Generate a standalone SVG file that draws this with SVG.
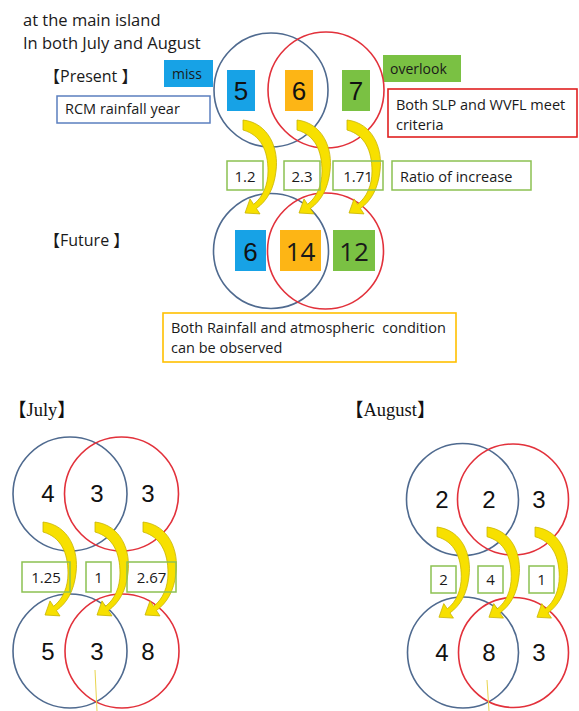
<svg xmlns="http://www.w3.org/2000/svg" xmlns:xlink="http://www.w3.org/1999/xlink" width="579" height="711" viewBox="0 0 579 711">
<defs>
<style>
.t{font-family:"Open Sans","Noto Sans CJK JP",sans-serif;fill:#1a1a1a}
.s14{font-size:14.5px}
.s16{font-size:16.5px}
.num{font-family:"Liberation Sans",Arial,sans-serif;fill:#111;text-anchor:middle}
.rt{font-family:"Open Sans",sans-serif;font-size:15px;fill:#1a1a1a;text-anchor:middle}
.cb{fill:none;stroke:#4F6A8F;stroke-width:1.6}
.cr{fill:none;stroke:#E2313B;stroke-width:1.6}
.gb{fill:none;stroke:#8CC152;stroke-width:1.5}
.mo{font-family:"Liberation Serif","Noto Sans CJK JP",serif;font-size:18.5px;fill:#111}
.arr{fill:#F7E000;stroke:#C8B400;stroke-width:0.8}
.thin{stroke:#E8D44D;stroke-width:1}
</style>
<path id="arr" d="M0,-1 C26,2 36,28 33,50 C31,68 24,80 13.4,87.5 L17,92.9 L2,92 L7,77.9 L10.6,83.3 C20,76 25,64 25,50 C25,30 18,14 0,9 Z"/>
</defs>
<rect width="579" height="711" fill="#fff"/>

<g id="title">
<text class="t s16" x="23" y="26">at the main island</text>
<text class="t s16" x="23" y="49">In both July and August</text>
</g>
<g id="label-present"><text class="t" font-size="16" x="44" y="82">【Present 】</text></g>
<g id="label-future"><text class="t" font-size="16" x="44" y="246">【Future 】</text></g>

<g id="legend-miss"><rect x="164" y="60" width="49" height="27" fill="#17A2E6"/><text class="t" font-size="14" x="172" y="79">miss</text></g>
<g id="legend-rcm"><rect x="57" y="96" width="153" height="27" fill="#fff" stroke="#5B7FBF" stroke-width="1.5"/><text class="t s14" x="65" y="114">RCM rainfall year</text></g>
<g id="legend-overlook"><rect x="383" y="55" width="78" height="27" fill="#7AC143"/><text class="t" font-size="14" x="390" y="74">overlook</text></g>
<g id="legend-slp"><rect x="388" y="89" width="189" height="48" fill="#fff" stroke="#E02020" stroke-width="1.6"/><text class="t s14" x="396" y="110">Both SLP and WVFL meet</text><text class="t s14" x="396" y="130">criteria</text></g>

<g id="present-venn">
<circle class="cb" cx="271" cy="90" r="57"/>
<circle class="cr" cx="326" cy="90" r="58"/>
<rect x="227" y="70" width="28" height="41" fill="#17A2E6"/><text class="num" font-size="26" x="241" y="100">5</text>
<rect x="285" y="70" width="28" height="41" fill="#FDB515"/><text class="num" font-size="26" x="299" y="100">6</text>
<rect x="342" y="70" width="28" height="41" fill="#7AC143"/><text class="num" font-size="26" x="356" y="100">7</text>
</g>

<g id="future-venn">
<circle class="cb" cx="271" cy="251" r="57.5"/>
<circle class="cr" cx="325.5" cy="251" r="58"/>
<rect x="235" y="230" width="31" height="41" fill="#17A2E6"/><text class="num" font-size="26" x="250.5" y="261">6</text>
<rect x="280" y="230" width="41" height="41" fill="#FDB515"/><text class="t" font-size="26" text-anchor="middle" x="300.5" y="261">14</text>
<rect x="333" y="230" width="42" height="41" fill="#7AC143"/><text class="t" font-size="26" text-anchor="middle" x="354" y="261">12</text>
</g>

<g id="legend-both"><rect x="163" y="313" width="293" height="49" fill="#fff" stroke="#FFC000" stroke-width="1.6"/><text class="t s14" x="171" y="333" xml:space="preserve">Both Rainfall and atmospheric  condition</text><text class="t s14" x="171" y="353">can be observed</text></g>

<g id="label-july"><text class="mo" x="8" y="416">【July】</text></g>
<g id="label-august"><text class="mo" x="345" y="416">【August】</text></g>

<g id="july-present">
<circle class="cb" cx="70" cy="494" r="57"/>
<circle class="cr" cx="121.5" cy="494" r="57"/>
<text class="num" font-size="24" x="48" y="502">4</text>
<text class="num" font-size="24" x="97" y="502">3</text>
<text class="num" font-size="24" x="148" y="502">3</text>
</g>
<g id="july-future">
<circle class="cb" cx="70" cy="651" r="57"/>
<circle class="cr" cx="122" cy="651" r="57"/>
<text class="num" font-size="24" x="48" y="660">5</text>
<text class="num" font-size="24" x="97" y="660">3</text>
<text class="num" font-size="24" x="148" y="660">8</text>
</g>

<g id="august-present">
<circle class="cb" cx="462.5" cy="499.5" r="56"/>
<circle class="cr" cx="513" cy="499.5" r="55.5"/>
<text class="num" font-size="24" x="442" y="508">2</text>
<text class="num" font-size="24" x="489" y="508">2</text>
<text class="num" font-size="24" x="539" y="508">3</text>
</g>
<g id="august-future">
<circle class="cb" cx="463" cy="652.5" r="55.5"/>
<circle class="cr" cx="513.5" cy="652.5" r="55"/>
<text class="num" font-size="24" x="442" y="661">4</text>
<text class="num" font-size="24" x="489" y="661">8</text>
<text class="num" font-size="24" x="539" y="661">3</text>
</g>

<g id="connectors">
<use xlink:href="#arr" class="arr" transform="translate(243,121)"/>
<use xlink:href="#arr" class="arr" transform="translate(297,121)"/>
<use xlink:href="#arr" class="arr" transform="translate(347,121)"/>
<use xlink:href="#arr" class="arr" transform="translate(43,523)"/>
<use xlink:href="#arr" class="arr" transform="translate(95,523)"/>
<use xlink:href="#arr" class="arr" transform="translate(143,523)"/>
<use xlink:href="#arr" class="arr" transform="translate(437,528) scale(0.97)"/>
<use xlink:href="#arr" class="arr" transform="translate(487,528) scale(0.97)"/>
<use xlink:href="#arr" class="arr" transform="translate(535,528) scale(0.97)"/>
<line class="thin" x1="95" y1="670" x2="97" y2="711"/>
<line class="thin" x1="487" y1="680" x2="489" y2="711"/>
</g>

<g id="ratio-top">
<rect class="gb" x="227" y="161" width="36" height="29"/><text class="rt" x="245" y="182">1.2</text>
<rect class="gb" x="284" y="161" width="36" height="29"/><text class="rt" x="302" y="182">2.3</text>
<rect class="gb" x="333" y="161" width="50" height="29"/><text class="rt" x="358" y="182">1.71</text>
</g>
<g id="legend-ratio"><rect class="gb" x="392" y="161" width="139" height="29" fill="#fff"/><text class="t s14" x="400" y="182">Ratio of increase</text></g>

<g id="ratio-july">
<rect class="gb" x="22" y="562" width="48" height="30"/><text class="rt" x="46" y="583">1.25</text>
<rect class="gb" x="86" y="562" width="25" height="30"/><text class="rt" x="98.5" y="583">1</text>
<rect class="gb" x="127" y="562" width="49" height="30"/><text class="rt" x="151.5" y="583">2.67</text>
</g>
<g id="ratio-august">
<rect class="gb" x="431" y="566" width="25" height="27"/><text class="rt" x="443.5" y="585">2</text>
<rect class="gb" x="478" y="566" width="25" height="27"/><text class="rt" x="490.5" y="585">4</text>
<rect class="gb" x="529" y="566" width="25" height="27"/><text class="rt" x="541.5" y="585">1</text>
</g>
</svg>
